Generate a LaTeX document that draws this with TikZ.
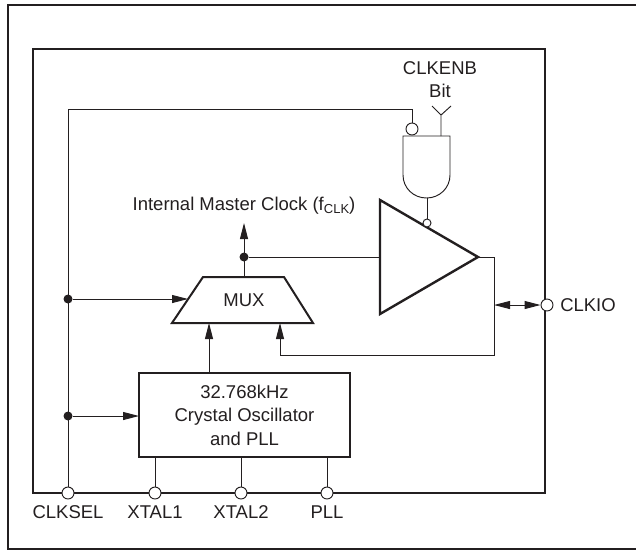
\documentclass[tikz,border=0pt]{standalone}
\usepackage{fontspec}
\setmainfont{Liberation Sans}
\usetikzlibrary{arrows.meta}
\definecolor{ink}{HTML}{231F20}
\tikzset{
  x=1pt,y=-1pt,
  every node/.style={text=ink,font=\fontsize{18.5}{23.5}\selectfont,inner sep=0pt},
  frame/.style={draw=ink,line width=2.2pt},
  wire/.style={draw=ink,line width=0.95pt},
  heavy/.style={draw=ink,line width=2pt,line join=miter},
  pin/.style={circle,draw=ink,fill=white,line width=0.95pt,minimum size=12pt},
  dotj/.style={circle,fill=ink,minimum size=9pt},
  tip/.style={-{Triangle[length=16pt,width=8pt]}},
  lab/.style={anchor=center}
}
\begin{document}
\begin{tikzpicture}
\useasboundingbox (0,0) rectangle (636,550);
% outer and inner frames
\draw[frame] (636,5) -- (8,5) -- (8,549) -- (636,549);
\draw[frame] (33,49) rectangle (545,493);
% coordinates
\coordinate (corner) at (68,109);
\coordinate (nandtop) at (412,109);
\coordinate (ant) at (441,115);
\coordinate (antL) at (432,106);
\coordinate (antR) at (451,106);
\coordinate (nandin) at (441,136);
\coordinate (nandout) at (427,198);
\coordinate (apex) at (478,257);
\coordinate (fb1) at (494,257);
\coordinate (fb2) at (494,355);
\coordinate (fb3) at (280,355);
\coordinate (fbtip) at (280,323);
\coordinate (fbmid) at (494,305);
\coordinate (muxtop) at (244,277);
\coordinate (clocktip) at (244,223);
\coordinate (triin) at (380,257);
\coordinate (muxleft) at (188,299);
\coordinate (muxin) at (209,323);
% osc box
\node[draw=ink,line width=2pt,minimum width=211pt,minimum height=84pt,align=center,fill=white] (osc) at (244.5,415) {32.768kHz\\Crystal Oscillator\\and PLL};
\coordinate (oscleft) at (139,416);
\coordinate (osctop) at (209,373);
\coordinate (oscb1) at (155,457);
\coordinate (oscb2) at (241,457);
\coordinate (oscb3) at (327,457);
% pins
\node[pin] (clksel) at (68,493) {};
\node[pin] (xtal1) at (155,493) {};
\node[pin] (xtal2) at (241,493) {};
\node[pin] (pll) at (327,493) {};
\node[pin] (clkio) at (547,305) {};
% wires
\draw[wire] (clksel) -- (corner) -- (nandtop) -- (412,123);
\draw[wire] (oscb1) -- (xtal1);
\draw[wire] (oscb2) -- (xtal2);
\draw[wire] (oscb3) -- (pll);
\draw[wire] (nandin) -- (ant) (antL) -- (ant) -- (antR);
% NAND
\draw[wire] (403,136) -- (450,136) -- (450,175) .. controls (450,188) and (439.5,198) .. (426.5,198) .. controls (413.5,198) and (403,188) .. (403,175) -- cycle;
\node[pin] (bubA) at (412,129) {};
% triangle buffer
\draw[line width=2.4pt,draw=ink,fill=white,line join=miter] (380,200) -- (apex) -- (380,314) -- cycle;
\draw[wire] (nandout) -- (427,219);
\node[pin,minimum size=8pt] (bubB) at (427,223) {};
% MUX
\draw[heavy] (203,277) -- (284,277) -- (313,323) -- (172,323) -- cycle;
\node (mux) at (244,300) {MUX};
% connections
\node[dotj] (d1) at (68,299) {};
\node[dotj] (d2) at (68,416) {};
\node[dotj] (d3) at (244,257) {};
\draw[wire,tip] (d1) -- (muxleft);
\draw[wire,tip] (d2) -- (oscleft);
\draw[wire,tip] (muxtop) -- (clocktip);
\draw[wire] (d3) -- (triin);
\draw[wire,tip] (osctop) -- (muxin);
\draw[wire] (apex) -- (fb1) -- (fb2) -- (fb3);
\draw[wire,tip] (fb3) -- (fbtip);
\draw[wire,{Triangle[length=16pt,width=8pt]}-{Triangle[length=16pt,width=8pt]}] (fbmid) -- (clkio);
% labels
\node[lab] (t1) at (440,68) {CLKENB};
\node[lab] (t2) at (440,91) {Bit};
\node[lab] (t3) at (244,206) {Internal Master Clock (f\raisebox{-3pt}{\fontsize{13}{14}\selectfont CLK})};
\node[lab] (t4) at (588,305) {CLKIO};
\node[lab] (t5) at (68,512) {CLKSEL};
\node[lab] (t6) at (155,512) {XTAL1};
\node[lab] (t7) at (241,512) {XTAL2};
\node[lab] (t8) at (327,512) {PLL};
\end{tikzpicture}
\end{document}
